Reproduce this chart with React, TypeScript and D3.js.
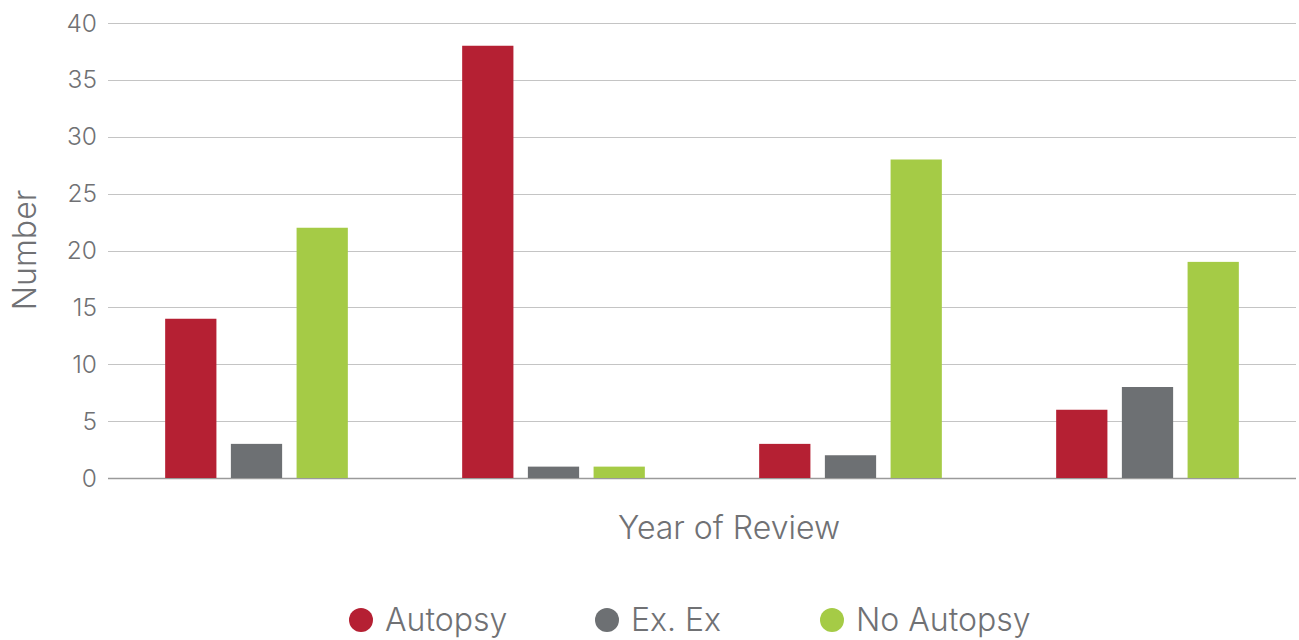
import React, { useEffect, useRef } from 'react'
import * as d3 from 'd3'

const years = ['Year 1', 'Year 2', 'Year 3', 'Year 4']
const seriesNames = ['Autopsy', 'Ex. Ex', 'No Autopsy']
const autopsy = [14, 38, 3, 6]
const exEx = [3, 1, 2, 8]
const noAutopsy = [22, 1, 28, 19]
const yTicks = [0, 5, 10, 15, 20, 25, 30, 35, 40]

const colors = ['#b52033', '#6d7073', '#a5cb46']
const textColor = '#707174'
const font = 'Inter, "Open Sans", sans-serif'

const width = 1299
const height = 640
const margin = { top: 23, right: 3, bottom: 162, left: 108 }

const App = () => {
  const ref = useRef<SVGGElement>(null)

  useEffect(() => {
    const innerW = width - margin.left - margin.right
    const innerH = height - margin.top - margin.bottom
    const values = [autopsy, exEx, noAutopsy]
    const rows = years.map((year, i) => ({
      year,
      bars: seriesNames.map((s, j) => ({ key: s, value: values[j][i], color: colors[j] })),
    }))

    const x0 = d3.scaleBand().domain(years).range([0, innerW]).padding(0)
    const x1 = d3
      .scaleBand()
      .domain(seriesNames)
      .range([0, x0.bandwidth()])
      .paddingInner(0.22)
      .paddingOuter(0.87)
    const y = d3.scaleLinear().domain([0, 40]).range([innerH, 0])

    const g = d3.select(ref.current)
    g.selectAll('*').remove()

    // grid lines + tick labels
    const grid = g.append('g')
    grid
      .selectAll('line')
      .data(yTicks)
      .join('line')
      .attr('x1', 0)
      .attr('x2', innerW)
      .attr('y1', d => Math.round(y(d)) + 0.5)
      .attr('y2', d => Math.round(y(d)) + 0.5)
      .attr('stroke', d => (d === 0 ? '#9a9a9a' : '#c4c4c4'))
      .attr('stroke-width', d => (d === 0 ? 1.5 : 1))

    grid
      .selectAll('text')
      .data(yTicks)
      .join('text')
      .attr('x', -11)
      .attr('y', d => y(d))
      .attr('dy', '0.35em')
      .attr('text-anchor', 'end')
      .attr('fill', textColor)
      .style('font-family', font)
      .style('font-size', '24.5px')
      .style('font-weight', 300)
      .text(d => d)

    const groups = g
      .selectAll('g.grp')
      .data(rows)
      .join('g')
      .attr('class', 'grp')
      .attr('transform', d => `translate(${x0(d.year)},0)`)

    groups
      .selectAll('rect')
      .data(d => d.bars)
      .join('rect')
      .attr('x', d => x1(d.key)!)
      .attr('width', x1.bandwidth())
      .attr('y', d => y(d.value))
      .attr('height', d => innerH - y(d.value))
      .attr('fill', d => d.color)

    // axis titles
    g.append('text')
      .attr('transform', `translate(${-83},${250 - margin.top}) rotate(-90)`)
      .attr('text-anchor', 'middle')
      .attr('dy', '0.35em')
      .attr('fill', textColor)
      .style('font-family', font)
      .style('font-size', '32px')
      .style('font-weight', 300)
      .text('Number')

    g.append('text')
      .attr('x', 729 - margin.left)
      .attr('y', 528 - margin.top)
      .attr('dy', '0.35em')
      .attr('text-anchor', 'middle')
      .attr('fill', textColor)
      .style('font-family', font)
      .style('font-size', '32px')
      .style('font-weight', 300)
      .text('Year of Review')

    // legend
    const legendX = [361, 607, 832]
    const legend = g
      .append('g')
      .selectAll('g')
      .data(seriesNames)
      .join('g')
      .attr('transform', (d, i) => `translate(${legendX[i] - margin.left},${620 - margin.top})`)
    legend
      .append('circle')
      .attr('r', 12)
      .attr('fill', (d, i) => colors[i])
    legend
      .append('text')
      .attr('x', 24)
      .attr('dy', '0.35em')
      .attr('fill', textColor)
      .style('font-family', font)
      .style('font-size', '32px')
      .style('font-weight', 300)
      .text(d => d)
  }, [])

  return (
    <svg
      width={width}
      height={height}
      style={{ position: 'absolute', left: 0, top: 0, background: '#fff' }}
    >
      <g ref={ref} transform={`translate(${margin.left},${margin.top})`} />
    </svg>
  )
}

export default App
